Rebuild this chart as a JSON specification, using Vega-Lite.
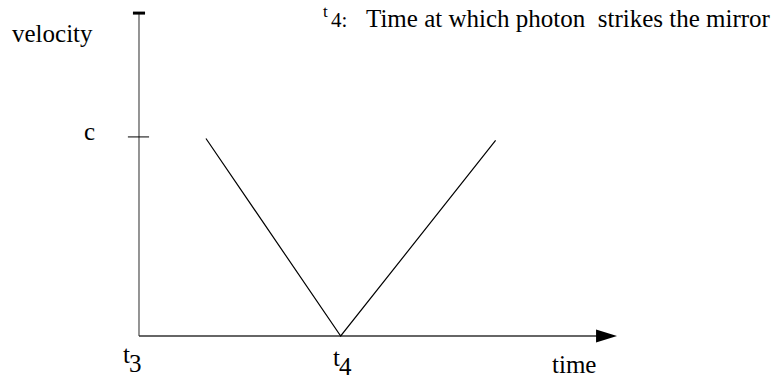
{
  "$schema": "https://vega.github.io/schema/vega-lite/v6.json",
  "width": 783,
  "height": 383,
  "autosize": {"type": "none"},
  "padding": 0,
  "background": "white",
  "config": {"view": {"stroke": null}, "text": {"font": "Liberation Serif"}},
  "datasets": {
    "yaxis": [{"t": 0, "v": 0, "t2": 0, "v2": 1.635}],
    "xaxis": [{"t": 0, "v": 0, "t2": 2.29, "v2": 0}],
    "toptick": [{"t": -0.03, "v": 1.635, "t2": 0.03, "v2": 1.635}],
    "ctick": [{"t": -0.055, "v": 1.008, "t2": 0.05, "v2": 1.008}],
    "arrow": [{"t": 2.318, "v": 0}],
    "curve": [
      {"t": 0.332, "v": 1.0},
      {"t": 1.0, "v": 0},
      {"t": 1.768, "v": 0.99}
    ],
    "labels": [
      {"t": -0.6296, "v": 1.4886, "label": "velocity"},
      {"t": -0.2727, "v": 0.992, "label": "c"},
      {"t": 2.0476, "v": -0.187, "label": "time"},
      {"t": -0.0793, "v": -0.137, "label": "t"},
      {"t": 0.9618, "v": -0.152, "label": "t"}
    ],
    "subs": [
      {"t": -0.0793, "v": -0.137, "label": "3"},
      {"t": 0.9618, "v": -0.152, "label": "4"}
    ],
    "headT": [{"t": 0.9122, "v": 1.6152, "label": "t"}],
    "headSub": [{"t": 0.9519, "v": 1.5646, "label": "4:"}],
    "headText": [{"t": 1.1255, "v": 1.5646, "label": "Time at which photon\u00a0 strikes the mirror"}]
  },
  "encoding": {
    "x": {"field": "t", "type": "quantitative", "scale": {"domain": [-0.6891, 3.1929], "nice": false, "zero": false}, "axis": null},
    "y": {"field": "v", "type": "quantitative", "scale": {"domain": [-0.238, 1.7013], "nice": false, "zero": false}, "axis": null}
  },
  "layer": [
    {
      "data": {"name": "yaxis"},
      "mark": {"type": "rule", "color": "#7a7a7a", "strokeWidth": 1.6},
      "encoding": {"x2": {"field": "t2"}, "y2": {"field": "v2"}}
    },
    {
      "data": {"name": "xaxis"},
      "mark": {"type": "rule", "color": "#333333", "strokeWidth": 1.3},
      "encoding": {"x2": {"field": "t2"}, "y2": {"field": "v2"}}
    },
    {
      "data": {"name": "toptick"},
      "mark": {"type": "rule", "color": "black", "strokeWidth": 3},
      "encoding": {"x2": {"field": "t2"}, "y2": {"field": "v2"}}
    },
    {
      "data": {"name": "ctick"},
      "mark": {"type": "rule", "color": "black", "strokeWidth": 1},
      "encoding": {"x2": {"field": "t2"}, "y2": {"field": "v2"}}
    },
    {
      "data": {"name": "arrow"},
      "mark": {"type": "point", "shape": "M-1,-0.62L1,0L-1,0.62Z", "size": 441, "filled": true, "color": "black", "opacity": 1, "strokeWidth": 0}
    },
    {
      "data": {"name": "curve"},
      "mark": {"type": "line", "color": "black", "strokeWidth": 1.2},
      "encoding": {"order": {"field": "t", "type": "quantitative"}}
    },
    {
      "data": {"name": "labels"},
      "mark": {"type": "text", "fontSize": 25, "align": "left", "baseline": "alphabetic", "color": "black"},
      "encoding": {"text": {"field": "label"}}
    },
    {
      "data": {"name": "subs"},
      "mark": {"type": "text", "fontSize": 25, "align": "left", "baseline": "alphabetic", "dx": 6, "dy": 9, "color": "black"},
      "encoding": {"text": {"field": "label"}}
    },
    {
      "data": {"name": "headT"},
      "mark": {"type": "text", "fontSize": 17, "align": "left", "baseline": "alphabetic", "color": "black"},
      "encoding": {"text": {"field": "label"}}
    },
    {
      "data": {"name": "headSub"},
      "mark": {"type": "text", "fontSize": 21, "align": "left", "baseline": "alphabetic", "color": "black"},
      "encoding": {"text": {"field": "label"}}
    },
    {
      "data": {"name": "headText"},
      "mark": {"type": "text", "fontSize": 25, "align": "left", "baseline": "alphabetic", "color": "black"},
      "encoding": {"text": {"field": "label"}}
    }
  ]
}
